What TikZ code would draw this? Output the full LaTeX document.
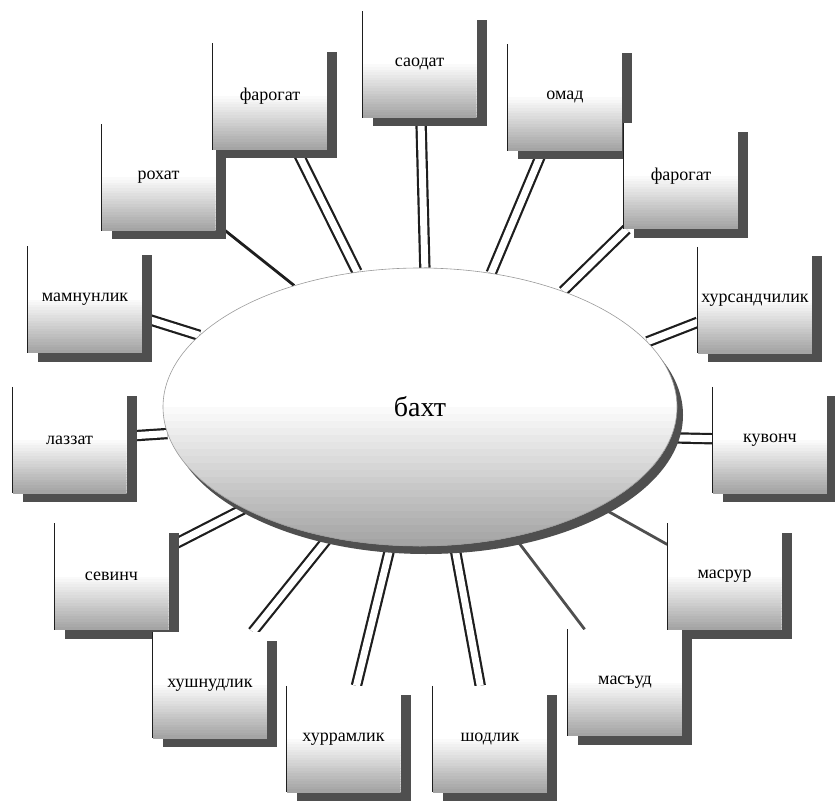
\documentclass[tikz,border=0pt]{standalone}
\usepackage{fontspec}
\setmainfont{Liberation Serif}
\usepackage{xcolor}
\usetikzlibrary{shapes,shadows,positioning,backgrounds,calc}
\definecolor{ink}{HTML}{1E1E1E}
\definecolor{shade}{HTML}{4F4F4F}
\definecolor{dust}{HTML}{A4A4A4}

\begin{document}
\begin{tikzpicture}[x=1pt, y=-1pt,
    lowhalf/.style={path picture={
        \foreach \k in {0,...,19}{
          \pgfmathtruncatemacro\tone{5*\k+5}
          \fill[dust!\tone!white] ($(path picture bounding box.west)!{\k/20}!(path picture bounding box.south west)$)
            rectangle ($(path picture bounding box.east)!{(\k+1.3)/20}!(path picture bounding box.south east)$);
        }}},
    card/.style={rectangle, minimum width=114pt, minimum height=106pt, inner sep=0pt,
                 fill=white, lowhalf, font=\fontsize{18}{20}\selectfont,
                 general shadow={fill=shade, shadow xshift=10pt, shadow yshift=-9pt},
                 append after command={(\tikzlastnode.north west) edge[draw=ink, line width=0.9pt] (\tikzlastnode.south west)}},
    hub/.style={ellipse, minimum width=514pt, minimum height=278pt, inner sep=0pt,
                fill=white, lowhalf, draw=ink!45, line width=0.6pt,
                font=\fontsize{28}{30}\selectfont,
                general shadow={fill=shade, shadow xshift=6pt, shadow yshift=-8pt}},
    link/.style={draw=ink, double=white, line width=2.2pt, double distance=7pt},
    solo/.style={draw=ink, line width=2.8pt},
]
\useasboundingbox (0,0) rectangle (835,802);
\node[hub] (baxt) at (420,407) {бахт};
\node[card] (rohat) at (158.5,177.5) {рохат};
\node[card] (farogat) at (270,96.5) {фарогат};
\node[card] (saodat) at (419.5,64.5) {саодат};
\node[card] (omad) at (565,97.5) {омад};
\node[card] (farogatb) at (681,176) {фарогат};
\node[card] (xursand) at (755,300) {хурсандчилик};
\node[card] (quvonch) at (770,440) {кувонч};
\node[card] (masrur) at (724.5,576.5) {масрур};
\node[card] (masud) at (625,682.5) {масъуд};
\node[card] (shodlik) at (490,739) {шодлик};
\node[card] (xurram) at (343.5,739) {хуррамлик};
\node[card] (sevinch) at (111.5,576.5) {севинч};
\node[card] (xushnud) at (210,685) {хушнудлик};
\node[card] (lazzat) at (69.5,440) {лаззат};
\node[card] (mamnun) at (85,299.5) {мамнунлик};
\begin{scope}[on background layer]
\draw[solo] (rohat) -- (baxt.136.8);
\draw[link] (farogat) -- (baxt.115.1);
\draw[link] (saodat) -- (baxt.88.4);
\draw[link] (omad) -- (baxt.62.3);
\draw[link] (farogatb) -- (baxt.39.4);
\draw[link] (xursand) -- (baxt.16.4);
\draw[link] (quvonch) -- (baxt.353.7);
\draw[solo, draw=shade] (masrur) -- (baxt.331.6);
\draw[solo, draw=shade] (masud) -- (baxt.306.9);
\draw[link] (shodlik) -- (baxt.284.2);
\draw[link] (xurram) -- (baxt.258.7);
\draw[link] (xushnud) -- (baxt.235.2);
\draw[link] (sevinch) -- (baxt.210.5);
\draw[link] (lazzat) -- (baxt.186.5);
\draw[link] (mamnun) -- (baxt.162.1);
\end{scope}
\end{tikzpicture}
\end{document}
